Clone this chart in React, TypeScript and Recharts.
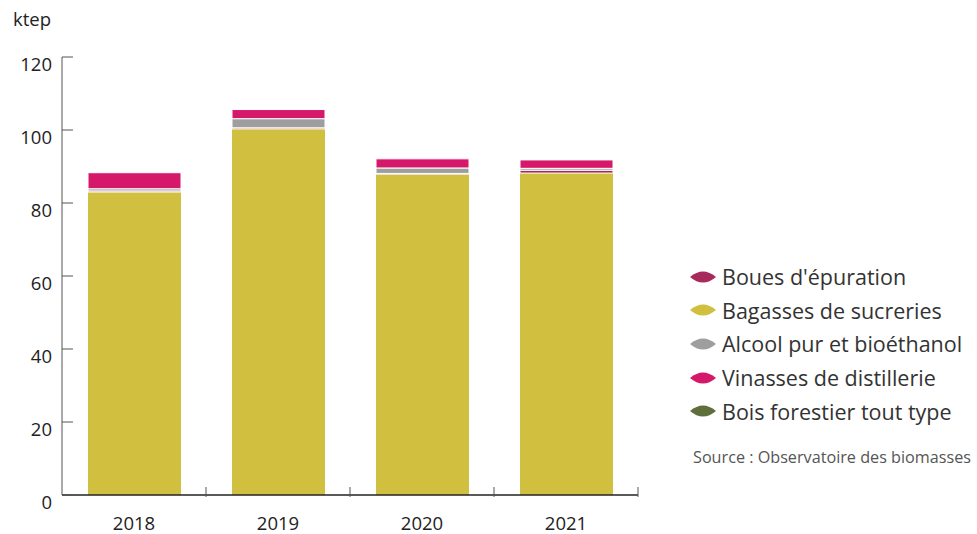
import React from 'react';
import { BarChart, Bar, XAxis, YAxis } from 'recharts';

const years = ['2018', '2019', '2020', '2021'];
const bagasses = [83.0, 100.3, 87.9, 88.2];
const boues = [0.3, 0.3, 0.2, 0.8];
const alcool = [0.6, 2.5, 1.5, 0.5];
const vinasses = [4.4, 2.5, 2.5, 2.3];
const bois = [0, 0, 0, 0];
const yTicks = [0, 20, 40, 60, 80, 100, 120];

const series = [
  { key: 'bagasses', name: 'Bagasses de sucreries', color: '#D1BF40' },
  { key: 'boues', name: "Boues d'épuration", color: '#A82A5C' },
  { key: 'alcool', name: 'Alcool pur et bioéthanol', color: '#9E9E9E' },
  { key: 'vinasses', name: 'Vinasses de distillerie', color: '#D6186B' },
  { key: 'bois', name: 'Bois forestier tout type', color: '#5F6F3B' },
];

const legendOrder = ['boues', 'bagasses', 'alcool', 'vinasses', 'bois'];

const data = years.map((y, i) => ({
  year: y,
  bagasses: bagasses[i],
  boues: boues[i],
  alcool: alcool[i],
  vinasses: vinasses[i],
  bois: bois[i],
}));

const font = '"Open Sans", sans-serif';

const YTick = (props: any) => {
  const { x, y, payload } = props;
  return (
    <g>
      <line x1={x} x2={x + 11} y1={y} y2={y} stroke="#555" strokeWidth={1} />
      <text x={x - 10} y={y + 14} textAnchor="end" fontSize={18.5} fill="#222" fontFamily={font}>
        {payload.value}
      </text>
    </g>
  );
};

const XTick = (props: any) => {
  const { x, y, payload } = props;
  return (
    <g>
      <line x1={x + 72} x2={x + 72} y1={y - 10} y2={y} stroke="#555" strokeWidth={1} />
      <text x={x} y={y + 33} textAnchor="middle" fontSize={18.5} fill="#222" fontFamily={font}>
        {payload.value}
      </text>
    </g>
  );
};

const Leaf = ({ color }: { color: string }) => (
  <svg width={28} height={16} style={{ display: 'block' }}>
    <path d="M1,8 Q14,-3 27,8 Q14,19 1,8 Z" fill={color} />
  </svg>
);

export default function App() {
  return (
    <div style={{ position: 'absolute', left: 0, top: 0, width: 977, height: 534, background: '#fff', fontFamily: font }}>
      <div style={{ position: 'absolute', left: 13, top: 6, fontSize: 18.5, color: '#222' }}>ktep</div>
      <BarChart
        width={977}
        height={534}
        data={data}
        margin={{ top: 57, right: 339, bottom: 0, left: 0 }}
        style={{ overflow: 'visible' }}
      >
        <XAxis
          dataKey="year"
          height={39}
          axisLine={{ stroke: '#222', strokeWidth: 1.5 }}
          tickLine={false}
          tickSize={0}
          tick={<XTick />}
          interval={0}
        />
        <YAxis
          width={62}
          domain={[0, 120]}
          ticks={yTicks}
          interval={0}
          axisLine={{ stroke: '#555' }}
          tickLine={false}
          tickSize={0}
          tickMargin={0}
          tick={<YTick />}
        />
        {series.map((s) => (
          <Bar
            key={s.key}
            dataKey={s.key}
            name={s.name}
            stackId="a"
            fill={s.color}
            stroke="#fff"
            strokeWidth={s.key === 'bagasses' ? 0 : 1}
            barSize={93}
            isAnimationActive={false}
          />
        ))}
      </BarChart>
      <div style={{ position: 'absolute', left: 689, top: 260 }}>
        {legendOrder.map((k) => {
          const s = series.find((d) => d.key === k)!;
          return (
            <div key={k} style={{ display: 'flex', alignItems: 'center', height: 33.6 }}>
              <Leaf color={s.color} />
              <span style={{ marginLeft: 5, fontSize: 21.5, color: '#333', whiteSpace: 'nowrap' }}>{s.name}</span>
            </div>
          );
        })}
      </div>
      <div style={{ position: 'absolute', left: 693, top: 446, fontSize: 16.2, color: '#555', whiteSpace: 'nowrap' }}>
        Source : Observatoire des biomasses
      </div>
    </div>
  );
}
